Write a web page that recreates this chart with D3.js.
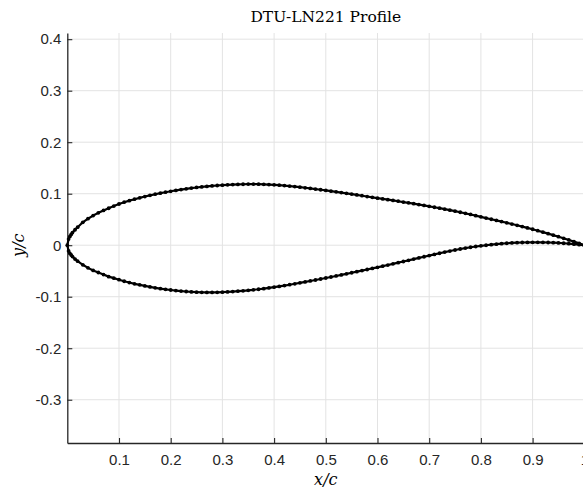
<!DOCTYPE html>
<html>
<head>
<meta charset="utf-8">
<script src="https://cdn.jsdelivr.net/npm/d3@7"></script>
<style>
  html, body { margin: 0; padding: 0; background: #fff; overflow: hidden; }
  svg { display: block; }
</style>
</head>
<body>
<svg id="chart" width="583" height="489"></svg>
<script>
// Chordwise stations shared by both surfaces (x/c)
const stations = [
  0, 0.0025, 0.005, 0.0075, 0.01, 0.015, 0.02,
  0.03, 0.04, 0.05, 0.06, 0.07, 0.08, 0.09, 0.10,
  0.11, 0.12, 0.13, 0.14, 0.15, 0.16, 0.17, 0.18, 0.19, 0.20,
  0.21, 0.22, 0.23, 0.24, 0.25, 0.26, 0.27, 0.28, 0.29, 0.30,
  0.31, 0.32, 0.33, 0.34, 0.35, 0.36, 0.37, 0.38, 0.39, 0.40,
  0.41, 0.42, 0.43, 0.44, 0.45, 0.46, 0.47, 0.48, 0.49, 0.50,
  0.51, 0.52, 0.53, 0.54, 0.55, 0.56, 0.57, 0.58, 0.59, 0.60,
  0.61, 0.62, 0.63, 0.64, 0.65, 0.66, 0.67, 0.68, 0.69, 0.70,
  0.71, 0.72, 0.73, 0.74, 0.75, 0.76, 0.77, 0.78, 0.79, 0.80,
  0.81, 0.82, 0.83, 0.84, 0.85, 0.86, 0.87, 0.88, 0.89, 0.90,
  0.91, 0.92, 0.93, 0.94, 0.95, 0.96, 0.97, 0.98, 0.99, 1.00
];

// Suction side y/c
const upperY = [
  0, 0.012, 0.017, 0.021, 0.0245, 0.030, 0.035,
  0.0445, 0.0515, 0.0575, 0.0628, 0.0675, 0.0718, 0.0760, 0.0800,
  0.0835, 0.0865, 0.0893, 0.0920, 0.0945, 0.0968, 0.0990, 0.1010, 0.1029, 0.1047,
  0.1064, 0.1080, 0.1095, 0.1109, 0.1121, 0.1132, 0.1142, 0.1151, 0.1159, 0.1166,
  0.1172, 0.1177, 0.1181, 0.1184, 0.1186, 0.1186, 0.1185, 0.1182, 0.1178, 0.1172,
  0.1165, 0.1157, 0.1148, 0.1138, 0.1127, 0.1115, 0.1103, 0.1090, 0.1077, 0.1064,
  0.1050, 0.1036, 0.1022, 0.1007, 0.0992, 0.0977, 0.0961, 0.0945, 0.0929, 0.0913,
  0.0898, 0.0884, 0.0869, 0.0854, 0.0838, 0.0822, 0.0806, 0.0789, 0.0772, 0.0755,
  0.0737, 0.0719, 0.0700, 0.0681, 0.0661, 0.0640, 0.0619, 0.0597, 0.0574, 0.0551,
  0.0527, 0.0504, 0.0481, 0.0458, 0.0435, 0.0411, 0.0387, 0.0362, 0.0336, 0.0310,
  0.0282, 0.0253, 0.0224, 0.0195, 0.0165, 0.0134, 0.0102, 0.0069, 0.0035, 0.0002
];

// Pressure side y/c
const lowerY = [
  0, -0.011, -0.016, -0.019, -0.022, -0.027, -0.031,
  -0.038, -0.044, -0.049, -0.053, -0.057, -0.061, -0.064, -0.067,
  -0.070, -0.0725, -0.075, -0.077, -0.079, -0.081, -0.0828, -0.0843, -0.0857, -0.0870,
  -0.0881, -0.0891, -0.0899, -0.0906, -0.0911, -0.0914, -0.0916, -0.0916, -0.0914, -0.0911,
  -0.0906, -0.0900, -0.0893, -0.0885, -0.0876, -0.0866, -0.0855, -0.0843, -0.0830, -0.0815,
  -0.0800, -0.0784, -0.0767, -0.0749, -0.0731, -0.0713, -0.0694, -0.0675, -0.0656, -0.0637,
  -0.0617, -0.0597, -0.0577, -0.0556, -0.0535, -0.0514, -0.0493, -0.0472, -0.0451, -0.0429,
  -0.0407, -0.0385, -0.0362, -0.0339, -0.0316, -0.0293, -0.0270, -0.0247, -0.0224, -0.0201,
  -0.0178, -0.0156, -0.0134, -0.0113, -0.0093, -0.0074, -0.0056, -0.0040, -0.0025, -0.0012,
  -0.0001, 0.0010, 0.0020, 0.0030, 0.0038, 0.0044, 0.0049, 0.0053, 0.0055, 0.0056,
  0.0056, 0.0055, 0.0053, 0.0049, 0.0044, 0.0038, 0.0030, 0.0021, 0.0011, 0
];

const xTicks = [0.1, 0.2, 0.3, 0.4, 0.5, 0.6, 0.7, 0.8, 0.9, 1];
const xTickLabels = ["0.1", "0.2", "0.3", "0.4", "0.5", "0.6", "0.7", "0.8", "0.9", "1"];
const yTicks = [-0.3, -0.2, -0.1, 0, 0.1, 0.2, 0.3, 0.4];
const yTickLabels = ["-0.3", "-0.2", "-0.1", "0", "0.1", "0.2", "0.3", "0.4"];

const titleText = "DTU-LN221 Profile";

const svg = d3.select("#chart");
const plotLeft = 67.3, plotRight = 584.3, plotTop = 33, plotBottom = 443;

const x = d3.scaleLinear().domain([0, 1]).range([plotLeft, plotRight]);
const y = d3.scaleLinear().domain([-0.384, 0.412]).range([plotBottom, plotTop]);

// grid
const grid = svg.append("g");
grid.selectAll("line.gx").data(xTicks).join("line")
  .attr("class", "gx")
  .attr("x1", d => x(d)).attr("x2", d => x(d))
  .attr("y1", plotTop).attr("y2", plotBottom)
  .attr("stroke", "#e3e3e3").attr("stroke-width", 1);
grid.selectAll("line.gy").data(yTicks).join("line")
  .attr("class", "gy")
  .attr("y1", d => y(d)).attr("y2", d => y(d))
  .attr("x1", plotLeft).attr("x2", plotRight)
  .attr("stroke", "#e3e3e3").attr("stroke-width", 1);

// axes
const xAxis = d3.axisBottom(x).tickValues(xTicks)
  .tickFormat((d, i) => xTickLabels[i]).tickSizeInner(-5).tickSizeOuter(0).tickPadding(11);
const yAxis = d3.axisLeft(y).tickValues(yTicks)
  .tickFormat((d, i) => yTickLabels[i]).tickSizeInner(-5).tickSizeOuter(0).tickPadding(6);

const gx = svg.append("g").attr("transform", `translate(0,${plotBottom})`).call(xAxis);
const gy = svg.append("g").attr("transform", `translate(${plotLeft},0)`).call(yAxis);
[gx, gy].forEach(g => {
  g.select(".domain").attr("stroke", "#262626").attr("stroke-width", 1.3);
  g.selectAll(".tick line").attr("stroke", "#262626").attr("stroke-width", 1.1);
  g.selectAll(".tick text")
    .attr("fill", "#262626")
    .style("font-family", "Liberation Sans, Arial, sans-serif")
    .style("font-size", "15px");
});

// profile: suction side from TE to LE, then pressure side back to TE
const upperPts = stations.map((s, i) => [s, upperY[i]]);
const lowerPts = stations.map((s, i) => [s, lowerY[i]]);
const loop = upperPts.slice().reverse().concat(lowerPts.slice(1));

const line = d3.line().x(d => x(d[0])).y(d => y(d[1])).curve(d3.curveLinear);
svg.append("path").datum(loop)
  .attr("d", line)
  .attr("fill", "none").attr("stroke", "#000").attr("stroke-width", 2.2)
  .attr("stroke-linejoin", "round");
svg.append("g").selectAll("circle").data(loop).join("circle")
  .attr("cx", d => x(d[0])).attr("cy", d => y(d[1]))
  .attr("r", 1.9).attr("fill", "#000");

// title and labels
svg.append("text")
  .attr("x", (plotLeft + plotRight) / 2).attr("y", 22)
  .attr("text-anchor", "middle")
  .style("font-family", "DejaVu Serif, serif").style("font-size", "15.5px")
  .attr("fill", "#000")
  .text(titleText);

svg.append("text")
  .attr("x", (plotLeft + plotRight) / 2).attr("y", 485)
  .attr("text-anchor", "middle")
  .style("font-family", "DejaVu Serif, serif").style("font-style", "italic").style("font-size", "16px")
  .attr("fill", "#000")
  .text("x/c");

svg.append("text")
  .attr("transform", `translate(24,${y(0)}) rotate(-90)`)
  .attr("text-anchor", "middle")
  .style("font-family", "DejaVu Serif, serif").style("font-style", "italic").style("font-size", "16px")
  .attr("fill", "#000")
  .text("y/c");
</script>
</body>
</html>
